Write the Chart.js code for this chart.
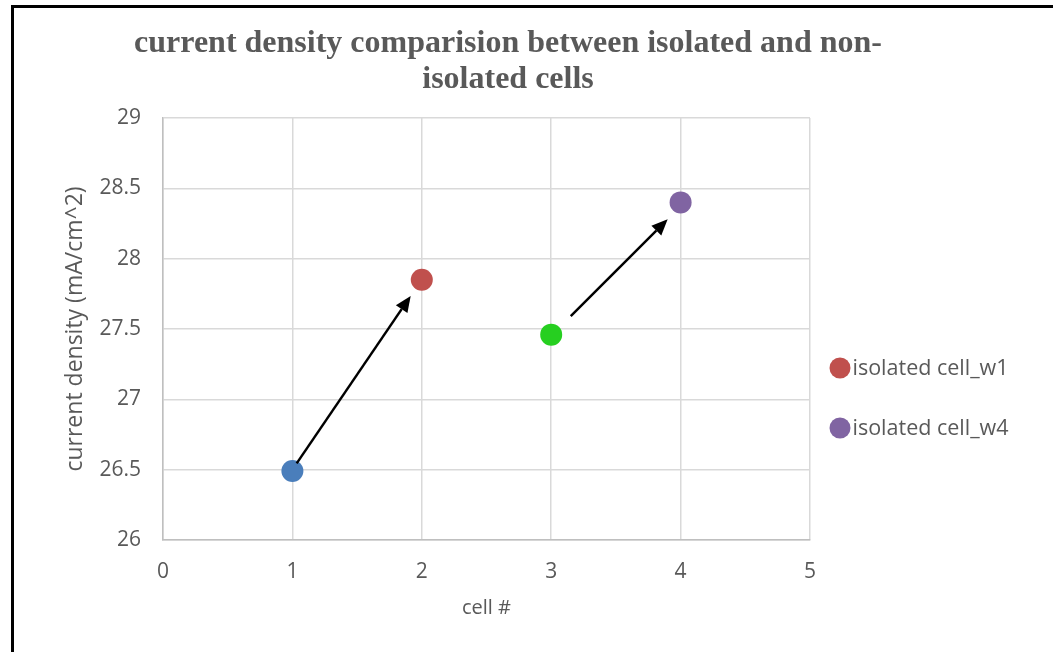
<!DOCTYPE html>
<html>
<head>
<meta charset="utf-8">
<title>current density comparision</title>
<script src="https://cdn.jsdelivr.net/npm/chart.js@4/dist/chart.umd.min.js"></script>
<style>
  html, body { margin: 0; padding: 0; background: #ffffff; }
  #wrap { position: relative; width: 1053px; height: 652px; overflow: hidden; }
  #frame { position: absolute; left: 11px; top: 5px; right: -10px; bottom: -10px;
           border-left: 3px solid #000; border-top: 3px solid #000; }
  #chart { position: absolute; left: 0; top: 0; }
</style>
</head>
<body>
<div id="wrap">
  <div id="frame"></div>
  <canvas id="chart" width="1053" height="652"></canvas>
</div>
<script>
// cell number on the x axis, measured current density on the y axis
const cellNumbers = [1, 2, 3, 4];
const currentDensity = [26.49, 27.85, 27.46, 28.40];
const seriesLabels = ['non-isolated cell_w1', 'isolated cell_w1', 'non-isolated cell_w4', 'isolated cell_w4'];
const seriesColors = ['#4a7ebb', '#c0504d', '#26cf20', '#8064a2'];
const legendSeries = ['isolated cell_w1', 'isolated cell_w4'];

// axis ticks and their printed labels
const xTicks = [0, 1, 2, 3, 4, 5];
const yTicks = [26, 26.5, 27, 27.5, 28, 28.5, 29];
const yTickLabels = ['26', '26.5', '27', '27.5', '28', '28.5', '29'];

// arrows from each non-isolated cell towards its isolated counterpart (data units)
const arrowFrom = [[1.033, 26.545], [3.151, 27.592]];
const arrowTo = [[1.914, 27.735], [3.900, 28.280]];

const textGray = '#595959';
const sans = "'Open Sans', 'DejaVu Sans', sans-serif";

const datasets = cellNumbers.map((x, i) => ({
  label: seriesLabels[i],
  data: [{ x: x, y: currentDensity[i] }],
  backgroundColor: seriesColors[i],
  borderColor: seriesColors[i],
  borderWidth: 0,
  pointRadius: 11,
  pointHoverRadius: 11
}));

// black arrows drawn in data coordinates
const arrowPlugin = {
  id: 'arrows',
  afterDatasetsDraw(chart) {
    const { ctx, scales: { x, y } } = chart;
    ctx.save();
    ctx.strokeStyle = '#000';
    ctx.fillStyle = '#000';
    ctx.lineWidth = 2.5;
    arrowFrom.forEach((p, i) => {
      const x0 = x.getPixelForValue(p[0]), y0 = y.getPixelForValue(p[1]);
      const x1 = x.getPixelForValue(arrowTo[i][0]), y1 = y.getPixelForValue(arrowTo[i][1]);
      const ang = Math.atan2(y1 - y0, x1 - x0);
      const head = 16, half = 7;
      const bx = x1 - head * Math.cos(ang), by = y1 - head * Math.sin(ang);
      ctx.beginPath();
      ctx.moveTo(x0, y0);
      ctx.lineTo(bx, by);
      ctx.stroke();
      ctx.beginPath();
      ctx.moveTo(x1, y1);
      ctx.lineTo(bx + half * Math.sin(ang), by - half * Math.cos(ang));
      ctx.lineTo(bx - half * Math.sin(ang), by + half * Math.cos(ang));
      ctx.closePath();
      ctx.fill();
    });
    ctx.restore();
  }
};

// legend on the right listing only the isolated series
const sideLegend = {
  id: 'sideLegend',
  afterDraw(chart, args, opts) {
    const { ctx } = chart;
    ctx.save();
    ctx.font = opts.font;
    ctx.textBaseline = 'middle';
    ctx.textAlign = 'left';
    let row = 0;
    chart.data.datasets.forEach(ds => {
      if (!legendSeries.includes(ds.label)) return;
      const cy = opts.top + row * opts.rowGap;
      ctx.fillStyle = ds.backgroundColor;
      ctx.beginPath();
      ctx.arc(opts.left, cy, opts.radius, 0, Math.PI * 2);
      ctx.fill();
      ctx.fillStyle = textGray;
      ctx.fillText(ds.label, opts.left + opts.radius + 2, cy + 1);
      row++;
    });
    ctx.restore();
  }
};

new Chart(document.getElementById('chart'), {
  type: 'scatter',
  data: { datasets },
  plugins: [arrowPlugin, sideLegend],
  options: {
    responsive: false,
    animation: false,
    events: [],
    layout: { padding: { left: 14, right: 51, top: 0, bottom: 0 } },
    plugins: {
      legend: { display: false },
      tooltip: { enabled: false },
      title: {
        display: true,
        text: ['current density comparision between isolated and non-', 'isolated cells'],
        color: textGray,
        font: { family: "'Liberation Serif', 'Times New Roman', serif", size: 32, weight: 'bold', lineHeight: 1.125 },
        padding: { top: 26, bottom: 20 }
      },
      sideLegend: { left: 840, top: 368, rowGap: 60, radius: 10.5, font: "21.5px " + sans }
    },
    scales: {
      x: {
        type: 'linear',
        min: xTicks[0],
        max: xTicks[xTicks.length - 1],
        afterBuildTicks: s => { s.ticks = xTicks.map(v => ({ value: v })); },
        afterFit: s => { s.height = 112; },
        grid: { color: '#d9d9d9', lineWidth: 1.5, drawTicks: false },
        border: { color: '#bfbfbf', width: 1.5 },
        ticks: { color: textGray, font: { family: sans, size: 21 }, padding: 19, callback: v => String(v) },
        title: { display: true, text: 'cell #', color: textGray, font: { family: sans, size: 20 }, padding: { top: 0, bottom: 32 } }
      },
      y: {
        type: 'linear',
        min: yTicks[0],
        max: yTicks[yTicks.length - 1],
        afterBuildTicks: s => { s.ticks = yTicks.map(v => ({ value: v })); },
        afterFit: s => { s.width = 149; },
        grid: { color: '#d9d9d9', lineWidth: 1.5, drawTicks: false },
        border: { color: '#bfbfbf', width: 1.5 },
        ticks: {
          color: textGray, font: { family: sans, size: 21 }, padding: 22,
          callback: v => yTickLabels[yTicks.indexOf(v)]
        },
        title: { display: true, text: 'current density (mA/cm^2)', color: textGray, font: { family: sans, size: 23 }, padding: { top: 48, bottom: 0 } }
      },
      // empty right-hand axis that keeps room free for the legend
      legendSpace: {
        type: 'linear',
        position: 'right',
        display: true,
        afterFit: s => { s.width = 192; },
        grid: { display: false, drawOnChartArea: false },
        border: { display: false },
        ticks: { display: false }
      }
    }
  }
});
</script>
</body>
</html>
